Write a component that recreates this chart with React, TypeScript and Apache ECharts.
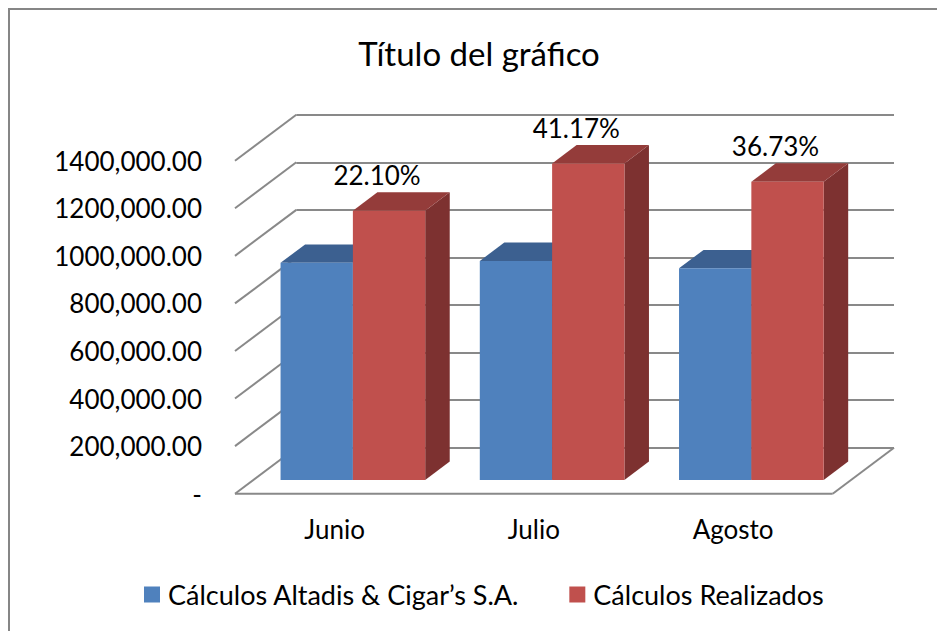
import React, { useEffect, useRef } from "react";
import * as echarts from "echarts";

const categories = ["Junio", "Julio", "Agosto"];
const seriesNames = ["C\u00e1lculos Altadis & Cigar\u2019s S.A.", "C\u00e1lculos Realizados"];
const altadisValues = [913000, 921000, 890000];
const realizadosValues = [1132000, 1331000, 1254000];
const percentLabels = ["22.10%", "41.17%", "36.73%"];
const yTicks = [0, 200000, 400000, 600000, 800000, 1000000, 1200000, 1400000];
const titleText = "T\u00edtulo del gr\u00e1fico";

// layout constants
const FRONT = { left: 235, top: 160.7, width: 597.7, height: 333 };
const DEPTH = { x: 61.3, y: -46 };
const BAR_FRONT = 0.298;
const BAR_DEPTH = 0.4;
const BAR_W = 0.363;
const FONT = "Lato";
const GRID_COLOR = "#898989";

const COLORS = [
  { front: "#4F81BD", top: "#3C6090", side: "#31507A" },
  { front: "#C0504D", top: "#943C3A", side: "#7D3130" },
];

function yLabel(v: number) {
  if (v === 0) return "-";
  return `${v / 1000},000.00`;
}

export default function App() {
  const ref = useRef<HTMLDivElement>(null);
  useEffect(() => {
    if (!ref.current) return;
    const chart = echarts.init(ref.current, undefined, { renderer: "svg" });

    const barRender = (si: number) => (params: any, api: any) => {
      const idx = api.value(0);
      const val = api.value(1);
      const p = api.coord([idx, val]);
      const p0 = api.coord([idx, 0]);
      const band = api.size([1, 0])[0];
      const bw = band * BAR_W;
      const ox = DEPTH.x * BAR_FRONT;
      const oy = DEPTH.y * BAR_FRONT;
      const dx = DEPTH.x * BAR_DEPTH;
      const dy = DEPTH.y * BAR_DEPTH;
      const left = p[0] + ox + (si === 0 ? -bw : 0);
      const right = left + bw;
      const top = p[1] + oy;
      const bottom = p0[1] + oy;
      const c = COLORS[si];
      const children: any[] = [
        {
          type: "polygon",
          shape: { points: [[right, top], [right + dx, top + dy], [right + dx, bottom + dy], [right, bottom]] },
          style: { fill: c.side },
        },
        {
          type: "polygon",
          shape: { points: [[left, top], [right, top], [right + dx, top + dy], [left + dx, top + dy]] },
          style: { fill: c.top },
        },
        {
          type: "rect",
          shape: { x: left, y: top, width: bw, height: bottom - top },
          style: { fill: c.front },
        },
      ];
      if (si === 1) {
        children.push({
          type: "text",
          x: left + bw / 2 - 12,
          y: top + dy - 17,
          style: {
            text: percentLabels[params.dataIndex],
            fill: "#000",
            font: `26px ${FONT}`,
            align: "center",
            verticalAlign: "middle",
          },
        });
      }
      return { type: "group", children };
    };

    const wallRender = (params: any, api: any) => {
      const cs = params.coordSys;
      const v = api.value(1);
      const y = api.coord([0, v])[1];
      const x = cs.x;
      const lineStyle = { stroke: GRID_COLOR, lineWidth: 2 };
      const children: any[] = [
        { type: "line", shape: { x1: x, y1: y, x2: x + DEPTH.x, y2: y + DEPTH.y }, style: lineStyle },
      ];
      if (v === 0) {
        children.push({
          type: "line",
          shape: { x1: x, y1: y, x2: x + cs.width, y2: y },
          style: lineStyle,
        });
        children.push({
          type: "line",
          shape: { x1: x + cs.width, y1: y, x2: x + cs.width + DEPTH.x, y2: y + DEPTH.y },
          style: lineStyle,
        });
      }
      return { type: "group", children };
    };

    const option: any = {
      animation: false,
      backgroundColor: "#fff",
      textStyle: { fontFamily: FONT },
      title: {
        text: titleText,
        left: 474,
        top: 31,
        textAlign: "center",
        textStyle: { fontFamily: FONT, fontSize: 33, fontWeight: "normal", color: "#000" },
      },
      legend: {
        data: seriesNames,
        left: 144,
        top: 581,
        padding: 0,
        itemWidth: 16,
        itemHeight: 16,
        itemGap: 50,
        icon: "rect",
        textStyle: { fontFamily: FONT, fontSize: 27, color: "#000", padding: [0, 0, 0, 3] },
      },
      grid: [
        { left: FRONT.left, top: FRONT.top, width: FRONT.width, height: FRONT.height },
        { left: FRONT.left + DEPTH.x, top: FRONT.top + DEPTH.y, width: FRONT.width, height: FRONT.height },
      ],
      xAxis: [
        {
          type: "category",
          gridIndex: 0,
          data: categories,
          axisLine: { show: false },
          axisTick: { show: false },
          axisLabel: { fontFamily: FONT, fontSize: 26, color: "#000", margin: 22 },
        },
        {
          type: "category",
          gridIndex: 1,
          data: categories,
          show: false,
        },
      ],
      yAxis: [
        {
          type: "value",
          gridIndex: 0,
          min: 0,
          max: 1400000,
          interval: 200000,
          axisLine: { show: false },
          axisTick: { show: false },
          splitLine: { show: false },
          axisLabel: { fontFamily: FONT, fontSize: 26, color: "#000", margin: 33, formatter: yLabel },
        },
        {
          type: "value",
          gridIndex: 1,
          min: 0,
          max: 1400000,
          interval: 200000,
          axisLine: { show: false },
          axisTick: { show: false },
          axisLabel: { show: false },
          splitLine: { show: true, lineStyle: { color: GRID_COLOR, width: 2 } },
        },
      ],
      graphic: [
        {
          type: "rect",
          shape: { x: 9, y: 9, width: 1000, height: 1000 },
          style: { fill: "none", stroke: "#868686", lineWidth: 2 },
          silent: true,
        },
      ],
      series: [
        {
          name: "walls",
          type: "custom",
          xAxisIndex: 0,
          yAxisIndex: 0,
          data: yTicks.map((v) => [0, v]),
          renderItem: wallRender,
          clip: false,
          silent: true,
        },
        {
          name: seriesNames[0],
          type: "custom",
          xAxisIndex: 0,
          yAxisIndex: 0,
          itemStyle: { color: COLORS[0].front },
          data: altadisValues.map((v, i) => [i, v]),
          renderItem: barRender(0),
          clip: false,
        },
        {
          name: seriesNames[1],
          type: "custom",
          xAxisIndex: 0,
          yAxisIndex: 0,
          itemStyle: { color: COLORS[1].front },
          data: realizadosValues.map((v, i) => [i, v]),
          renderItem: barRender(1),
          clip: false,
        },
      ],
    };
    chart.setOption(option);
    return () => chart.dispose();
  }, []);

  return (
    <div
      ref={ref}
      style={{ position: "absolute", left: 0, top: 0, width: 937, height: 631 }}
    />
  );
}
